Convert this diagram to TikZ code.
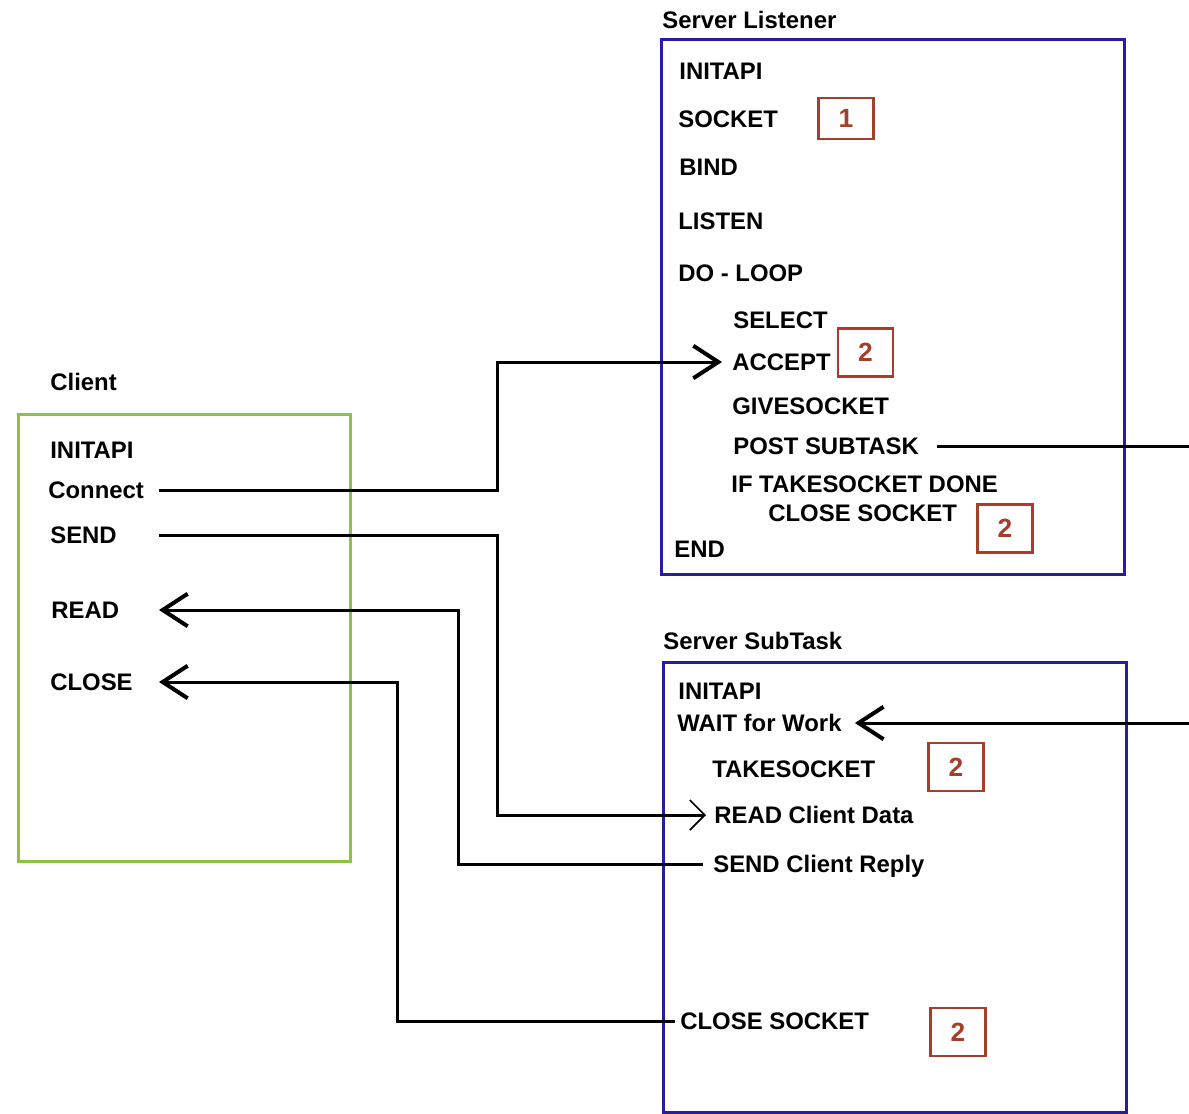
\documentclass[tikz,border=0pt]{standalone}
\usepackage{fontspec}
\setmainfont{Liberation Sans}
\usetikzlibrary{positioning, arrows.meta}
\definecolor{listblue}{RGB}{40,28,165}
\definecolor{clientgreen}{RGB}{140,196,64}
\definecolor{markred}{RGB}{165,62,42}

\begin{document}
\begin{tikzpicture}[
        x=0.2mm, y=-0.2mm,
        cmd/.style={anchor=west, inner sep=0pt, text height=9.8pt, text depth=0pt, font=\fontsize{13.6}{16}\selectfont\bfseries},
        panel/.style={draw, line width=0.6mm, anchor=north west, inner sep=0pt},
        numbox/.style={draw=markred, text=markred, line width=0.45mm, minimum width=11mm, minimum height=9.6mm, inner sep=0pt, font=\fontsize{15}{16}\selectfont\bfseries},
        wire/.style={line width=0.6mm},
        bigtip/.style={wire, -{Straight Barb[length=5mm, width=6.5mm, line width=0.8mm]}},
        smalltip/.style={wire, -{Straight Barb[length=3mm, width=6mm, line width=0.35mm]}}
    ]
    \useasboundingbox (0,0) rectangle (1189,1114);

    % boxes
    \node[panel, draw=listblue, minimum width=92.6mm, minimum height=107mm] (listener) at (660,38) {};
    \node[panel, draw=clientgreen, minimum width=66.4mm, minimum height=89.4mm] (client) at (17,413) {};
    \node[panel, draw=listblue, minimum width=92.6mm, minimum height=90mm] (subtask) at (662,661) {};

    \node[cmd] (ltitle) at (662,20) {Server Listener};
    \node[cmd] (ctitle) at (50,382) {Client};
    \node[cmd] (stitle) at (663,641) {Server SubTask};

    % server listener
    \node[cmd] (linit) at (679,71) {INITAPI};
    \node[cmd] (lsocket) at (678,119) {SOCKET};
    \node[cmd] (lbind) at (679,167) {BIND};
    \node[cmd] (llisten) at (678,221) {LISTEN};
    \node[cmd] (lloop) at (678,273) {DO - LOOP};
    \node[cmd] (lselect) at (733,320) {SELECT};
    \node[cmd] (laccept) at (732,362) {ACCEPT};
    \node[cmd] (lgive) at (732,406) {GIVESOCKET};
    \node[cmd] (lpost) at (733,446) {POST SUBTASK};
    \node[cmd] (lif) at (731,484) {IF TAKESOCKET DONE};
    \node[cmd] (lclose) at (768,513) {CLOSE SOCKET};
    \node[cmd] (lend) at (674,549) {END};

    \node[numbox, minimum height=8.2mm] (n1) at (846,118.5) {1};
    \node[numbox] (n2a) at (865.5,352.5) {2};
    \node[numbox] (n2b) at (1005,528.5) {2};

    % client
    \node[cmd] (cinit) at (50,450) {INITAPI};
    \node[cmd] (cconnect) at (48,490) {Connect};
    \node[cmd] (csend) at (50,535) {SEND};
    \node[cmd] (cread) at (51,610) {READ};
    \node[cmd] (cclose) at (50,682) {CLOSE};

    % server subtask
    \node[cmd] (sinit) at (678,691) {INITAPI};
    \node[cmd] (swait) at (677,723) {WAIT for Work};
    \node[cmd] (stake) at (712,769) {TAKESOCKET};
    \node[cmd] (sread) at (714,815) {READ Client Data};
    \node[cmd] (sreply) at (713,864) {SEND Client Reply};
    \node[cmd] (sclose) at (680,1021) {CLOSE SOCKET};

    \node[numbox] (n2c) at (956,767) {2};
    \node[numbox] (n2d) at (958,1032) {2};

    % connector columns
    \coordinate (cport) at (159,0);
    \coordinate (jogsend) at (497,0);
    \coordinate (jogreply) at (458,0);
    \coordinate (jogclose) at (397,0);
    \coordinate (edge) at (1189,0);

    \draw[bigtip] (cconnect -| cport) -- (cconnect -| jogsend) |- ([xshift=-2mm]laccept.west);
    \draw[smalltip] (csend -| cport) -- (csend -| jogsend) |- ([xshift=-1.6mm]sread.west);
    \draw[bigtip] ([xshift=-2mm]sreply.west) -- (sreply -| jogreply) |- (cread -| cport);
    \draw[bigtip] ([xshift=-1mm]sclose.west) -- (sclose -| jogclose) |- (cclose -| cport);
    \draw[wire] ([xshift=3.6mm]lpost.east) -- (lpost -| edge);
    \draw[bigtip] (swait -| edge) -- ([xshift=2.6mm]swait.east);

\end{tikzpicture}
\end{document}
